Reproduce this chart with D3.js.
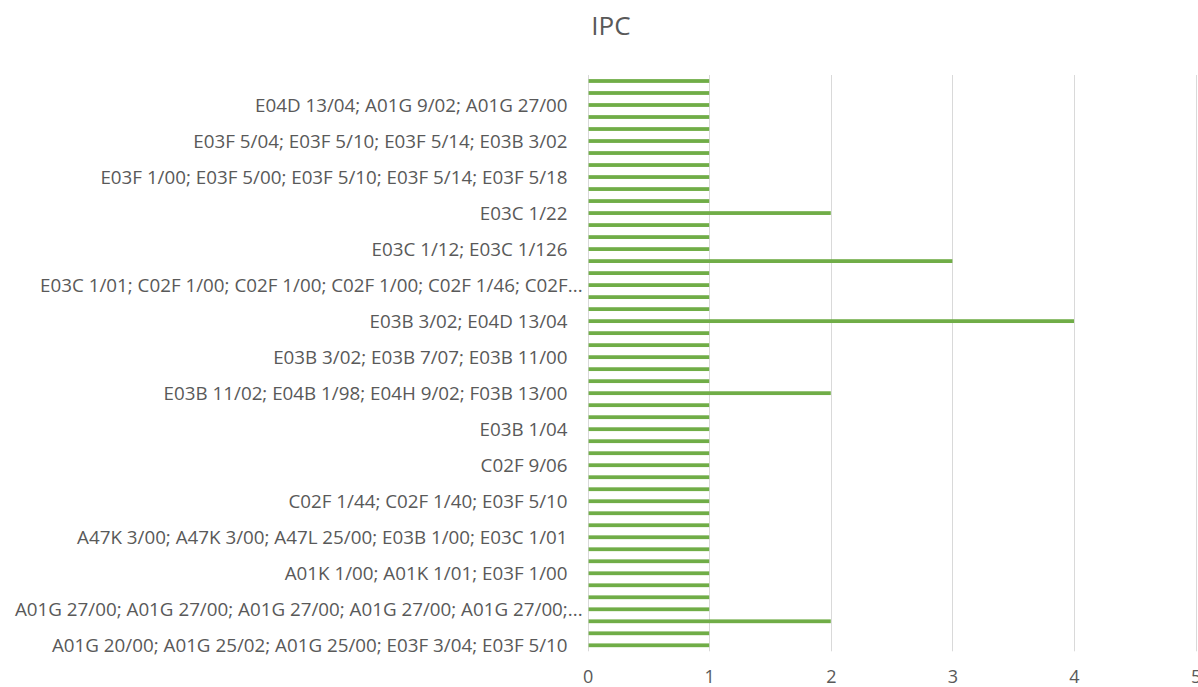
<!DOCTYPE html>
<html>
<head>
<meta charset="utf-8">
<script src="https://cdn.jsdelivr.net/npm/d3@7"></script>
<style>
  html, body { margin: 0; padding: 0; background: #ffffff; }
  svg { display: block; }
  text { font-family: "Open Sans", "Liberation Sans", sans-serif; fill: #595959; }
</style>
</head>
<body>
<svg id="chart" width="1198" height="687"></svg>
<script>
// Data (index 0 = bottom category)
const title = "IPC";
const values = [
  1, 1, 2, 1, 1, 1, 1, 1, 1, 1, 1, 1,
  1, 1, 1, 1, 1, 1, 1, 1, 1, 2, 1, 1,
  1, 1, 1, 4, 1, 1, 1, 1, 3, 1, 1, 1,
  2, 1, 1, 1, 1, 1, 1, 1, 1, 1, 1, 1
];
// Only every third category label is shown in the chart
const tickLabels = [
  "A01G 20/00; A01G 25/02; A01G 25/00; E03F 3/04; E03F 5/10",
  "A01G 27/00; A01G 27/00; A01G 27/00; A01G 27/00; A01G 27/00;...",
  "A01K 1/00; A01K 1/01; E03F 1/00",
  "A47K 3/00; A47K 3/00; A47L 25/00; E03B 1/00; E03C 1/01",
  "C02F 1/44; C02F 1/40; E03F 5/10",
  "C02F 9/06",
  "E03B 1/04",
  "E03B 11/02; E04B 1/98; E04H 9/02; F03B 13/00",
  "E03B 3/02; E03B 7/07; E03B 11/00",
  "E03B 3/02; E04D 13/04",
  "E03C 1/01; C02F 1/00; C02F 1/00; C02F 1/00; C02F 1/46; C02F...",
  "E03C 1/12; E03C 1/126",
  "E03C 1/22",
  "E03F 1/00; E03F 5/00; E03F 5/10; E03F 5/14; E03F 5/18",
  "E03F 5/04; E03F 5/10; E03F 5/14; E03B 3/02",
  "E04D 13/04; A01G 9/02; A01G 27/00"
];
const labelStep = 3;
const xTicks = [0, 1, 2, 3, 4, 5];

const svg = d3.select("#chart");
const mLeft = 587.6, mRight = 1195.6, mTop = 75, mBottom = 651.3;

const x = d3.scaleLinear().domain([0, 5]).range([mLeft, mRight]);
const y = d3.scaleBand()
  .domain(d3.range(values.length))
  .range([mBottom, mTop])
  .paddingInner(0.685)
  .paddingOuter(0.3425);

// Title
svg.append("text")
  .attr("x", 611).attr("y", 35)
  .attr("text-anchor", "middle")
  .style("font-size", "26px")
  .text(title);

// Gridlines
svg.append("g").selectAll("line")
  .data(xTicks)
  .join("line")
  .attr("x1", d => Math.round(x(d)) + 0.5)
  .attr("x2", d => Math.round(x(d)) + 0.5)
  .attr("y1", mTop).attr("y2", mBottom)
  .attr("stroke", "#d9d9d9")
  .attr("stroke-width", 1);

// Bars
svg.append("g").selectAll("rect")
  .data(values)
  .join("rect")
  .attr("x", x(0) + 1)
  .attr("y", (d, i) => y(i))
  .attr("height", y.bandwidth())
  .attr("width", d => x(d) - x(0) - 1)
  .attr("fill", "#70ad47");

// X axis tick labels
const xAxis = d3.axisBottom(x).tickValues(xTicks).tickSize(0).tickPadding(0).tickFormat(d3.format("d"));
const gx = svg.append("g").attr("transform", `translate(0,${mBottom})`).call(xAxis);
gx.select(".domain").remove();
gx.selectAll("text")
  .attr("dy", null)
  .attr("y", 32)
  .style("font-size", "18px")
  .style("fill", "#595959")
  .style("font-family", "\"Open Sans\", sans-serif");

// Category labels
const labelIdx = tickLabels.map((t, k) => k * labelStep);
const yAxis = d3.axisLeft(y)
  .tickValues(labelIdx)
  .tickSize(0)
  .tickPadding(20)
  .tickFormat(i => tickLabels[i / labelStep]);
const gy = svg.append("g").attr("transform", `translate(${mLeft},0)`).call(yAxis);
gy.select(".domain").remove();
gy.selectAll("text")
  .attr("dy", "0.36em")
  .attr("x", i => tickLabels[i / labelStep].endsWith("...") ? -5 : -20)
  .style("font-size", "18.8px")
  .style("fill", "#595959")
  .style("font-family", "\"Open Sans\", sans-serif");
</script>
</body>
</html>
